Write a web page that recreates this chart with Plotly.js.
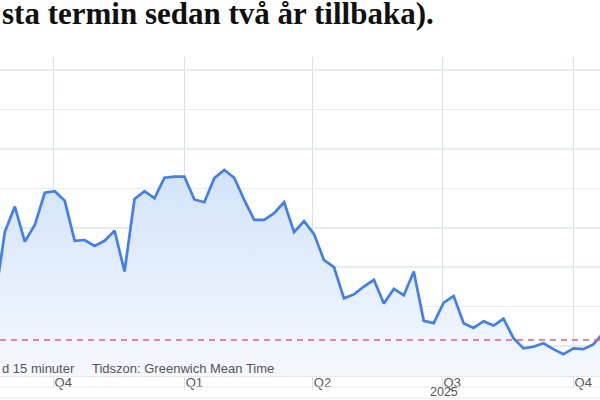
<!DOCTYPE html>
<html>
<head>
<meta charset="utf-8">
<script src="https://cdn.plot.ly/plotly-3.0.1.min.js"></script>
<style>html,body{margin:0;padding:0;background:#fff;}#chart{width:600px;height:400px;}</style>
</head>
<body>
<div id="chart"></div>
<script>
// Weekly observation dates
const dates = [
  '2024-08-21','2024-08-28','2024-09-04','2024-09-11','2024-09-18','2024-09-25',
  '2024-10-02','2024-10-09','2024-10-16','2024-10-23','2024-10-30','2024-11-06',
  '2024-11-13','2024-11-20','2024-11-27','2024-12-04','2024-12-11','2024-12-18',
  '2024-12-25','2025-01-01','2025-01-08','2025-01-15','2025-01-22','2025-01-29',
  '2025-02-05','2025-02-12','2025-02-19','2025-02-26','2025-03-05','2025-03-12',
  '2025-03-19','2025-03-26','2025-04-02','2025-04-09','2025-04-16','2025-04-23',
  '2025-04-30','2025-05-07','2025-05-14','2025-05-21','2025-05-28','2025-06-04',
  '2025-06-11','2025-06-18','2025-06-25','2025-07-02','2025-07-09','2025-07-16',
  '2025-07-23','2025-07-30','2025-08-06','2025-08-13','2025-08-20','2025-08-27',
  '2025-09-03','2025-09-10','2025-09-17','2025-09-24','2025-10-01','2025-10-08',
  '2025-10-15','2025-10-22'
];
// Series values
const values = [
  11.17, 12.90, 13.54, 12.65, 13.07, 13.89,
  13.93, 13.69, 12.67, 12.69, 12.54, 12.67,
  12.93, 11.89, 13.73, 13.93, 13.75, 14.27,
  14.30, 14.30, 13.72, 13.65, 14.26, 14.47,
  14.27, 13.71, 13.20, 13.20, 13.37, 13.65,
  12.89, 13.17, 12.84, 12.18, 12.00, 11.21,
  11.31, 11.51, 11.68, 11.08, 11.45, 11.29,
  11.89, 10.64, 10.58, 11.10, 11.27, 10.58,
  10.46, 10.63, 10.52, 10.69, 10.20, 9.94,
  9.98, 10.07, 9.92, 9.79, 9.94, 9.92,
  10.04, 10.33
];
const referenceLevel = 10.15;
const quarterDates = ['2024-10-01','2025-01-01','2025-04-01','2025-07-01','2025-10-01'];
const quarterLabels = ['Q4','Q1','Q2','Q3','Q4'];
const yearLabel = '2025';
const yearStart = '2025-01-01', yearEnd = '2025-12-31';
const titleText = 'sta termin sedan två år tillbaka).';
const noteLeft = 'd 15 minuter';
const noteRight = 'Tidszon: Greenwich Mean Time';

const yMin = 9.239, yMax = 17.335;
const yearMid = new Date((Date.parse(yearStart) + Date.parse(yearEnd)) / 2).toISOString().slice(0, 10);

const trace = {
  x: dates, y: values, type: 'scatter', mode: 'lines',
  line: {color: '#3f7ff2', width: 2.7},
  fill: 'tozeroy',
  fillgradient: {
    type: 'vertical', start: yMin, stop: Math.max.apply(null, values),
    colorscale: [[0, '#f5f8fd'], [1, '#d2e3f9']]
  },
  hoverinfo: 'skip'
};

const layout = {
  width: 600, height: 400,
  margin: {l: 0, r: 0, t: 57, b: 24},
  paper_bgcolor: '#ffffff', plot_bgcolor: '#ffffff',
  showlegend: false,
  font: {family: 'Liberation Sans, Arial, sans-serif', color: '#555'},
  xaxis: {
    type: 'date',
    range: ['2024-08-24 14:00', '2025-10-19 17:00'],
    tickvals: quarterDates, ticktext: quarterLabels,
    showgrid: true, gridcolor: '#d9e3e7', gridwidth: 1.5,
    ticks: 'outside', ticklen: 11, tickwidth: 1.5, tickcolor: '#d9e3e7',
    ticklabelposition: 'outside right', ticklabelstandoff: -6,
    tickfont: {size: 13, color: '#555', family: 'Liberation Sans, Arial, sans-serif'},
    showline: true, linecolor: '#e2e8ea', linewidth: 1,
    zeroline: false, fixedrange: true
  },
  yaxis: {
    range: [yMin, yMax], tick0: 0, dtick: 1,
    showgrid: true, gridcolor: '#e6ecee', gridwidth: 1.5,
    showticklabels: false, zeroline: false, ticks: '', fixedrange: true
  },
  shapes: [
    {type: 'line', xref: 'paper', x0: 0, x1: 1, yref: 'y', y0: referenceLevel, y1: referenceLevel,
     line: {color: '#f4557f', width: 1.5, dash: '6px,5px'}},
    {type: 'line', xref: 'paper', x0: 0, x1: 1, yref: 'paper', y0: -0.0345, y1: -0.0345,
     line: {color: '#e4e9eb', width: 1.2}},
    {type: 'line', xref: 'paper', x0: 0, x1: 1, yref: 'paper', y0: -0.069, y1: -0.069,
     line: {color: '#e4e9eb', width: 1.2}}
  ],
  annotations: [
    {text: titleText, xref: 'paper', yref: 'paper', x: 0, y: 1, xanchor: 'left', yanchor: 'middle',
     yshift: 44, showarrow: false,
     font: {family: 'Liberation Serif, Times New Roman, serif', size: 31, color: '#111', weight: 700}},
    {text: noteLeft, xref: 'paper', yref: 'paper', x: 0, y: 0.025, xanchor: 'left', yanchor: 'middle',
     showarrow: false, font: {size: 13, color: '#555'}},
    {text: noteRight, xref: 'paper', yref: 'paper', x: 0.15, y: 0.025, xanchor: 'left', yanchor: 'middle',
     showarrow: false, font: {size: 13, color: '#555'}},
    {text: yearLabel, xref: 'x', yref: 'paper', x: yearMid, y: -0.051, xanchor: 'center', yanchor: 'middle',
     showarrow: false, font: {size: 12.5, color: '#555'}}
  ]
};

Plotly.newPlot('chart', [trace], layout, {displayModeBar: false, staticPlot: true});
</script>
</body>
</html>
